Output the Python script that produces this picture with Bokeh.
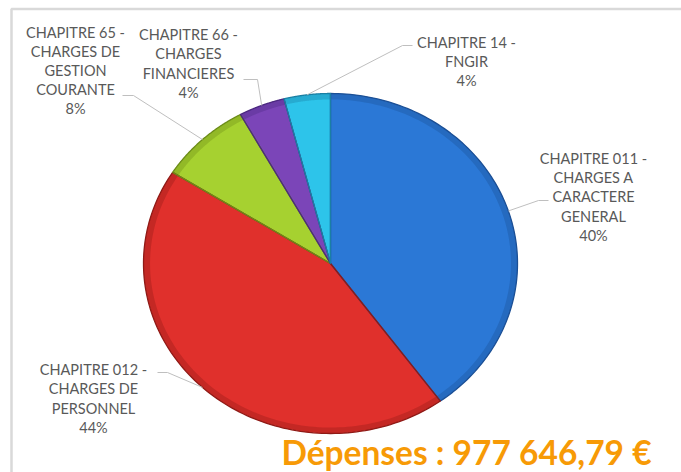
import numpy as np
from bokeh.plotting import figure
from bokeh.embed import file_html
from bokeh.resources import INLINE
from bokeh.core.properties import value

# ---- data ----
categories = [
    "CHAPITRE 011 -\nCHARGES A\nCARACTERE\nGENERAL",
    "CHAPITRE 012 -\nCHARGES DE\nPERSONNEL",
    "CHAPITRE 65 -\nCHARGES DE\nGESTION\nCOURANTE",
    "CHAPITRE 66 -\nCHARGES\nFINANCIERES",
    "CHAPITRE 14 -\nFNGIR",
]
percents = [40, 44, 8, 4, 4]
title_text = "Dépenses : 977 646,79 €"

# ---- style / layout ----
colors = ["#2b78d6", "#e0302c", "#a6d130", "#7b45b8", "#2dc4ea"]
edges = ["#1b4f95", "#8f1a16", "#6c8c18", "#4b2880", "#1a7fa3"]
W, H = 681, 472
cx, cy, rx, ry = 330, 209, 187, 170
# label block centres (data coords) and leader elbow points
label_pos = [(593, 275.5), (93, 74), (75, 402), (188, 409), (466, 411)]
elbows = [[(538, 272), (548, 272)], [(167, 100), (157, 100)],
          [(133, 377), (122, 377)], [(257, 393), (243, 393)],
          [(402, 427), (412, 427)]]

p = figure(width=W, height=H, x_range=(0, W), y_range=(0, H),
           output_backend="svg", toolbar_location=None,
           min_border=0, background_fill_color="white")
p.axis.visible = False
p.grid.visible = False
p.outline_line_color = None

# frame (top + left)
p.line(x=[11, 11, W + 20], y=[-20, 463.5, 463.5], line_color="#d9d9d9", line_width=2.5)

vals = np.array(percents, dtype=float)
fr = vals / vals.sum()
ends = 90 - np.cumsum(fr) * 360
starts = np.concatenate([[90], ends[:-1]])

xs, ys, mids, rxs, rys = [], [], [], [], []
for a0, a1 in zip(starts, ends):
    t = np.radians(np.linspace(a0, a1, 120))
    xs.append(np.concatenate([[cx], cx + rx * np.cos(t)]))
    ys.append(np.concatenate([[cy], cy + ry * np.sin(t)]))
    mids.append(np.radians((a0 + a1) / 2))
    # outer rim band (bevel look)
    rxs.append(np.concatenate([cx + rx * np.cos(t), cx + rx * 0.965 * np.cos(t[::-1])]))
    rys.append(np.concatenate([cy + ry * np.sin(t), cy + ry * 0.965 * np.sin(t[::-1])]))

p.patches(xs, ys, fill_color=colors, line_color=None)
p.patches(rxs, rys, fill_color=edges, fill_alpha=0.35, line_color=None)
p.patches(xs, ys, fill_color=None, line_color=edges, line_width=1.3)

# leader lines
for m, el in zip(mids, elbows):
    ex, ey = cx + rx * np.cos(m), cy + ry * np.sin(m)
    p.line(x=[ex] + [e[0] for e in el], y=[ey] + [e[1] for e in el],
           line_color="#bfbfbf", line_width=1)

labels = [f"{c}\n{v}%" for c, v in zip(categories, percents)]
p.text(x=[lp[0] for lp in label_pos], y=[lp[1] for lp in label_pos], text=labels,
       text_align="center", text_baseline="middle", text_color="#595959",
       text_font=value("Lato"), text_font_size="14.5px", text_line_height=1.12)

p.text(x=[466], y=[21], text=[title_text], text_align="center",
       text_baseline="middle", text_color="#f79a06",
       text_font=value("Lato"), text_font_style="bold", text_font_size="33.5px")

open("out.html", "w").write(file_html(p, INLINE))
